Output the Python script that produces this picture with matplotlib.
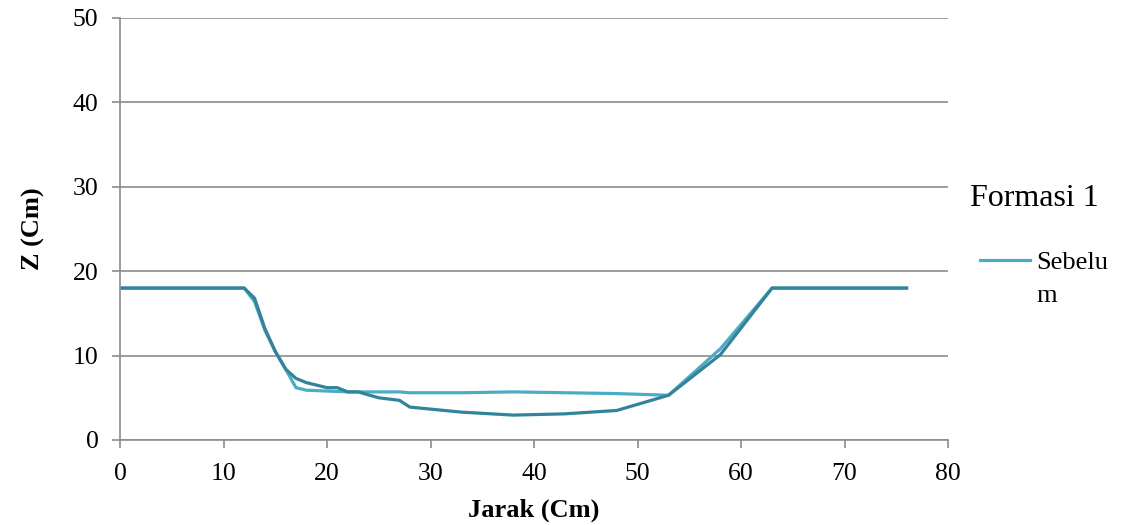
import matplotlib
matplotlib.use("Agg")
import matplotlib.pyplot as plt

plt.rcParams["font.family"] = ["Liberation Serif", "DejaVu Serif"]

# ---- data -------------------------------------------------------------------
x_sebelum = [0, 12, 13, 14, 15, 16, 17, 18, 20, 22, 27, 28, 33, 38, 43, 48, 53, 58, 63, 76]
z_sebelum = [18, 18, 16.4, 13, 10.5, 8.4, 6.2, 5.9, 5.8, 5.7, 5.7, 5.6, 5.6, 5.7, 5.6, 5.5, 5.3, 10.8, 18, 18]

x_sesudah = [0, 12, 13, 14, 15, 16, 17, 18, 20, 21, 22, 23, 25, 27, 28, 33, 38, 43, 48, 53, 58, 63, 76]
z_sesudah = [18, 18, 16.8, 13.2, 10.5, 8.4, 7.3, 6.8, 6.2, 6.2, 5.7, 5.7, 5.0, 4.7, 3.9, 3.3, 2.95, 3.1, 3.5, 5.3, 10.1, 18, 18]

LIGHT, DARK, GRID = "#4bacc6", "#31849b", "#8c8c8c"

fig = plt.figure(figsize=(11.21, 5.25), dpi=100)
ax = fig.add_axes([120 / 1121, 85 / 525, 828 / 1121, 422 / 525])

ax.plot(x_sebelum, z_sebelum, color=LIGHT, lw=2.3, label="Sebelu", solid_joinstyle="round")
ax.plot(x_sesudah, z_sesudah, color=DARK, lw=2.3, solid_joinstyle="round", label="_nolegend_")

ax.set_xlim(0, 80)
ax.set_ylim(0, 50)
ax.set_xticks(range(0, 81, 10))
ax.set_yticks(range(0, 51, 10))
ax.yaxis.grid(True, color=GRID, lw=1.2)
ax.set_axisbelow(True)
for s in ("top", "right"):
    ax.spines[s].set_visible(False)
for s in ("left", "bottom"):
    ax.spines[s].set_color(GRID)
    ax.spines[s].set_linewidth(1.2)
ax.tick_params(axis="both", colors=GRID, length=5.5, width=1.2, labelsize=18.5,
               labelcolor="black")
ax.tick_params(axis="y", pad=10)
ax.tick_params(axis="x", pad=11)

ax.set_xlabel("Jarak (Cm)", fontsize=19, fontweight="bold", labelpad=10)
ax.set_ylabel("Z (Cm)", fontsize=19, fontweight="bold", labelpad=20)

leg = ax.legend(title="Formasi 1", loc="upper left", bbox_to_anchor=(0.988, 0.674),
                frameon=False, fontsize=19, title_fontsize=23, handlelength=1.9,
                handletextpad=0.22, borderaxespad=1.2, labelspacing=0.9)
leg._legend_box.align = "left"
leg.get_title().set_position((-10, 14))

# wrapped second line of the legend label, as in the original
fig.canvas.draw()
bb = leg.get_texts()[0].get_window_extent()
W, H = fig.bbox.width, fig.bbox.height
fig.text(bb.x0 / W, (bb.y0 - 33) / H, "m", ha="left", va="bottom", fontsize=19)

fig.savefig("out.png", dpi=100)
